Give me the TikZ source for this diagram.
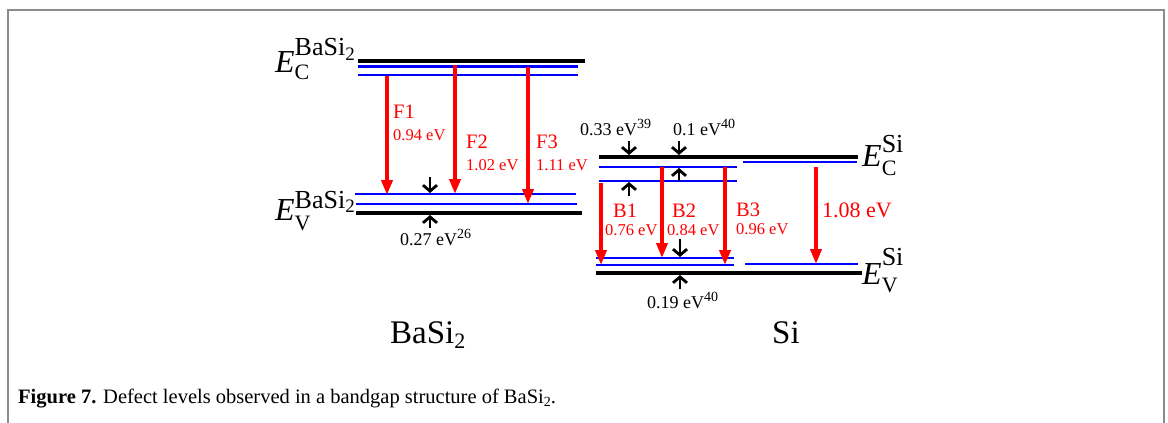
\documentclass[tikz,border=0pt]{standalone}
\usepackage{fontspec}
\setmainfont{Liberation Serif}
\usetikzlibrary{arrows.meta}
\newcommand{\fsz}[1]{\fontsize{#1}{#1}\selectfont}
% band edge label: sub, sup, lowering, raising
\newcommand{\elevel}[4]{\textit{E}\rlap{\raisebox{-#3}{\fsz{22}#1}}\raisebox{#4}{\fsz{26}#2}}
\newcommand{\refsup}[1]{\raisebox{6.5pt}{\fsz{14}#1}}

\begin{document}
\begin{tikzpicture}[x=1pt,y=-1pt,
  cband/.style={line width=4.5pt,black},
  dlevel/.style={line width=2.8pt,blue},
  trans/.style={line width=4pt,red,-{Triangle[length=15pt,width=11pt]}},
  gapmark/.style={line width=2.8pt,black,-{Straight Barb[length=6pt,width=14pt]}},
  redlab/.style={red,inner sep=0pt,font=\fsz{20.5}},
  vallab/.style={red,inner sep=0pt,font=\fsz{16.5}},
  blklab/.style={inner sep=0pt,font=\fsz{18}},
  elab/.style={inner sep=0pt,font=\fsz{32}}]
  \useasboundingbox (0,0) rectangle (1168,423);
  \draw[line width=2pt,black!45] (8,423) -- (8,10) -- (1164,10) -- (1164,423);
  % BaSi2 levels
  \draw[cband] (358,61) -- (585,61);
  \draw[dlevel] (358,66.5) -- (578,66.5);
  \draw[dlevel] (358,75) -- (578,75);
  \draw[dlevel] (355,194) -- (576,194);
  \draw[dlevel] (356,204) -- (577,204);
  \draw[cband] (356,213) -- (582,213);
  \node[elab,anchor=base east] (ecb) at (355,72)
    {\elevel{C}{BaSi\raisebox{-5pt}{\fsz{19}2}}{7pt}{17pt}};
  \node[elab,anchor=base east] (evb) at (355,220)
    {\elevel{V}{BaSi\raisebox{-4pt}{\fsz{19}2}}{10pt}{12pt}};
  % Si levels
  \draw[cband] (599,157) -- (858,157);
  \draw[dlevel] (599,167) -- (737,167);
  \draw[dlevel] (599,181) -- (737,181);
  \draw[dlevel] (743,162) -- (857,162);
  \draw[dlevel] (596,258) -- (734,258);
  \draw[dlevel] (596,265) -- (734,265);
  \draw[dlevel] (745,264) -- (858,264);
  \draw[cband] (596,273) -- (862,273);
  \node[elab,anchor=base west] (ecs) at (862,166) {\elevel{C}{Si}{9pt}{14pt}};
  \node[elab,anchor=base west] (evs) at (862,284) {\elevel{V}{Si}{8pt}{19pt}};
  % transitions
  \coordinate (F1s) at (387,76);  \coordinate (F1e) at (387,195);
  \coordinate (F2s) at (455,65);  \coordinate (F2e) at (455,194);
  \coordinate (F3s) at (528,67);  \coordinate (F3e) at (528,204);
  \coordinate (B1s) at (601,183); \coordinate (B1e) at (601,265);
  \coordinate (B2s) at (662,167); \coordinate (B2e) at (662,258);
  \coordinate (B3s) at (725,167); \coordinate (B3e) at (725,265);
  \coordinate (Gs) at (816,167);  \coordinate (Ge) at (816,264);
  \draw[trans] (F1s) -- (F1e);
  \draw[trans] (F2s) -- (F2e);
  \draw[trans] (F3s) -- (F3e);
  \draw[trans] (B1s) -- (B1e);
  \draw[trans] (B2s) -- (B2e);
  \draw[trans] (B3s) -- (B3e);
  \draw[trans] (Gs) -- (Ge);
  \node[redlab,anchor=base west] (f1) at (393,118) {F1};
  \node[vallab,anchor=base west] (f1v) at (393,140) {0.94 eV};
  \node[redlab,anchor=base west] (f2) at (466,148) {F2};
  \node[vallab,anchor=base west] (f2v) at (466,170) {1.02 eV};
  \node[redlab,anchor=base west] (f3) at (536,148) {F3};
  \node[vallab,anchor=base west] (f3v) at (536,170) {1.11 eV};
  \node[redlab,anchor=base west] (b1) at (613,217) {B1};
  \node[vallab,anchor=base west] (b1v) at (605,235) {0.76 eV};
  \node[redlab,anchor=base west] (b2) at (672,217) {B2};
  \node[vallab,anchor=base west] (b2v) at (667,235) {0.84 eV};
  \node[redlab,anchor=base west] (b3) at (736,216) {B3};
  \node[vallab,anchor=base west] (b3v) at (736,234) {0.96 eV};
  \node[red,inner sep=0pt,font=\fsz{22},anchor=base west] (gv) at (822,217) {1.08 eV};
  % defect depths
  \coordinate (m1s) at (430,177); \coordinate (m1e) at (430,193);
  \coordinate (m2s) at (430,228); \coordinate (m2e) at (430,215);
  \coordinate (m3s) at (629,141); \coordinate (m3e) at (629,155);
  \coordinate (m4s) at (679,141); \coordinate (m4e) at (679,155);
  \coordinate (m5s) at (679,181); \coordinate (m5e) at (679,168);
  \coordinate (m6s) at (629,196); \coordinate (m6e) at (629,182);
  \coordinate (m7s) at (680,239); \coordinate (m7e) at (680,257);
  \coordinate (m8s) at (680,289); \coordinate (m8e) at (680,275);
  \draw[gapmark] (m1s) -- (m1e);
  \draw[gapmark] (m2s) -- (m2e);
  \draw[gapmark] (m3s) -- (m3e);
  \draw[gapmark] (m4s) -- (m4e);
  \draw[gapmark] (m5s) -- (m5e);
  \draw[gapmark] (m6s) -- (m6e);
  \draw[gapmark] (m7s) -- (m7e);
  \draw[gapmark] (m8s) -- (m8e);
  \node[blklab,anchor=base west] (d1) at (400,245) {0.27 eV\refsup{26}};
  \node[blklab,anchor=base west] (d2) at (580,135) {0.33 eV\refsup{39}};
  \node[blklab,anchor=base west] (d3) at (673,135) {0.1 eV\refsup{40}};
  \node[blklab,anchor=base west] (d4) at (647,308) {0.19 eV\refsup{40}};
  % materials and caption
  \node[inner sep=0pt,font=\fsz{33},anchor=base west] (mb) at (390,343)
    {BaSi\raisebox{-5pt}{\fsz{22}2}};
  \node[inner sep=0pt,font=\fsz{33},anchor=base west] (ms) at (772,343) {Si};
  \node[inner sep=0pt,font=\fsz{20.5},anchor=base west] (cap) at (18,403)
    {\textbf{Figure 7.} Defect levels observed in a bandgap structure of BaSi\raisebox{-3pt}{\fsz{14}2}.};
\end{tikzpicture}
\end{document}
